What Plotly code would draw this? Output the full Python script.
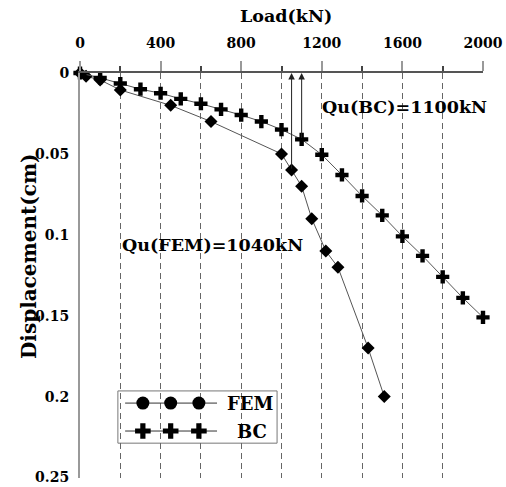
import plotly.graph_objects as go

# ---- data ----
fem_load = [0, 30, 100, 200, 450, 650, 1000, 1050, 1100, 1150, 1220, 1280, 1430, 1510]
fem_disp = [0, 0.002, 0.0043, 0.0105, 0.020, 0.030, 0.050, 0.060, 0.070, 0.090, 0.110, 0.120, 0.170, 0.200]

bc_load = [0, 100, 200, 300, 400, 500, 600, 700, 800, 900, 1000, 1100, 1200, 1300, 1400,
           1500, 1600, 1700, 1800, 1900, 2000]
bc_disp = [0, 0.003, 0.0065, 0.010, 0.0125, 0.016, 0.019, 0.0225, 0.026, 0.030, 0.035, 0.041,
           0.0505, 0.063, 0.076, 0.088, 0.101, 0.113, 0.126, 0.139, 0.151]

x_ticks = [0, 400, 800, 1200, 1600, 2000]
y_ticks = [0, 0.05, 0.1, 0.15, 0.2, 0.25]
y_tick_labels = ["0", "0.05", "0.1", "0.15", "0.2", "0.25"]

qu_fem = 1050   # arrow position of FEM ultimate load (label 1040 kN)
qu_fem_disp = 0.060
qu_bc = 1100
qu_bc_disp = 0.041

FONT = "DejaVu Serif"
LINE_C = "#555555"

fig = go.Figure()

fig.add_trace(go.Scatter(
    x=fem_load, y=fem_disp, mode="lines+markers", name="FEM",
    line=dict(color=LINE_C, width=1),
    marker=dict(symbol="diamond", size=10, color="black"),
    cliponaxis=False, showlegend=False))

fig.add_trace(go.Scatter(
    x=bc_load, y=bc_disp, mode="lines+markers", name="BC",
    line=dict(color=LINE_C, width=1),
    marker=dict(symbol="cross", size=11, color="black"),
    cliponaxis=False, showlegend=False))

# ---- custom legend on an overlay axis (paper-like 0..1 coordinates) ----
leg_x = [0.156, 0.225, 0.295]
fig.add_trace(go.Scatter(
    x=[0.112, 0.34], y=[0.185, 0.185], mode="lines", line=dict(color="#333", width=1),
    xaxis="x2", yaxis="y2", showlegend=False, hoverinfo="skip"))
fig.add_trace(go.Scatter(
    x=leg_x, y=[0.185] * 3, mode="markers", marker=dict(symbol="circle", size=13, color="black"),
    xaxis="x2", yaxis="y2", showlegend=False, hoverinfo="skip"))
fig.add_trace(go.Scatter(
    x=[0.112, 0.34], y=[0.116, 0.116], mode="lines", line=dict(color="#333", width=1),
    xaxis="x2", yaxis="y2", showlegend=False, hoverinfo="skip"))
fig.add_trace(go.Scatter(
    x=leg_x, y=[0.116] * 3, mode="markers", marker=dict(symbol="cross", size=13, color="black"),
    xaxis="x2", yaxis="y2", showlegend=False, hoverinfo="skip"))

fig.add_shape(type="rect", xref="x2", yref="y2", x0=0.094, x1=0.489, y0=0.086, y1=0.215,
              line=dict(color="#777", width=1), fillcolor="white", layer="below")

annotations = [
    dict(xref="x2", yref="y2", x=0.36, y=0.185, text="<b>FEM</b>", showarrow=False,
         xanchor="left", yanchor="middle", font=dict(family=FONT, size=18, color="black")),
    dict(xref="x2", yref="y2", x=0.385, y=0.116, text="<b>BC</b>", showarrow=False,
         xanchor="left", yanchor="middle", font=dict(family=FONT, size=18, color="black")),
    # arrows
    dict(xref="x", yref="y", axref="x", ayref="y", x=qu_fem, y=0, ax=qu_fem, ay=qu_fem_disp,
         showarrow=True, arrowhead=2, arrowsize=1.3, arrowwidth=1, arrowcolor="#222", text=""),
    dict(xref="x", yref="y", axref="x", ayref="y", x=qu_bc, y=0, ax=qu_bc, ay=qu_bc_disp,
         showarrow=True, arrowhead=2, arrowsize=1.3, arrowwidth=1, arrowcolor="#222", text=""),
    dict(xref="x", yref="y", x=1190, y=0.021, text="<b>Qu(BC)=1100kN</b>", showarrow=False,
         xanchor="left", yanchor="middle", font=dict(family=FONT, size=17.5, color="black")),
    dict(xref="x", yref="y", x=200, y=0.106, text="<b>Qu(FEM)=1040kN</b>", showarrow=False,
         xanchor="left", yanchor="middle", font=dict(family=FONT, size=17.5, color="black")),
    # axis titles
    dict(xref="paper", yref="paper", x=0.512, y=1.0, yshift=57,
         text="<b>Load(kN)</b>", showarrow=False, xanchor="center", yanchor="middle",
         font=dict(family=FONT, size=17.5, color="black")),
    dict(xref="paper", yref="paper", x=0, xshift=-51, y=0.548,
         text="<b>Displacement(cm)</b>", textangle=-90, showarrow=False,
         xanchor="center", yanchor="middle", font=dict(family=FONT, size=20, color="black")),
]

fig.update_layout(
    width=506, height=487,
    margin=dict(l=80, r=23, t=73, b=9),
    paper_bgcolor="white", plot_bgcolor="white",
    font=dict(family=FONT),
    annotations=annotations,
    xaxis=dict(
        side="top", range=[0, 2000], tickvals=x_ticks, ticks="outside", ticklen=10,
        tickcolor="#999", tickwidth=2, automargin=False,
        showline=True, linecolor="#555", linewidth=1.5,
        showgrid=True, gridcolor="#666", gridwidth=1, griddash="6px,4px",
        minor=dict(dtick=200, tick0=0, ticks="outside", ticklen=5, tickcolor="#444",
                   showgrid=True, gridcolor="#666", gridwidth=1, griddash="6px,4px"),
        tickfont=dict(family=FONT, size=14, color="black", weight="bold"),
        zeroline=False, ticklabelstandoff=8, ticklabeloverflow="allow",
    ),
    yaxis=dict(
        range=[0.2503, 0], tickvals=y_ticks, ticktext=y_tick_labels, ticks="",
        showline=True, linecolor="#999", linewidth=2, showgrid=False, zeroline=False,
        tickfont=dict(family=FONT, size=14, color="black", weight="bold"),
        ticklabelstandoff=6, ticklabeloverflow="allow", automargin=False,
    ),
    xaxis2=dict(range=[0, 1], domain=[0, 1], overlaying="x", visible=False, fixedrange=True),
    yaxis2=dict(range=[0, 1], domain=[0, 1], overlaying="y", visible=False, fixedrange=True),
)

fig.write_html("out.html")
